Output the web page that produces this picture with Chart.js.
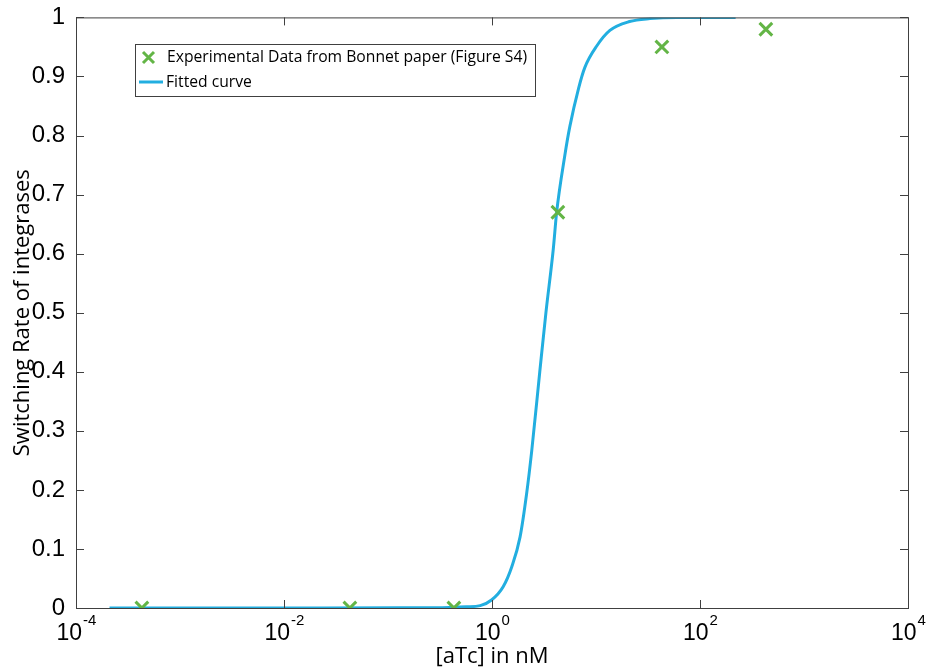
<!DOCTYPE html>
<html>
<head>
<meta charset="utf-8">
<script src="https://cdn.jsdelivr.net/npm/chart.js@4.4.0/dist/chart.umd.min.js"></script>
<style>
html, body { margin: 0; padding: 0; background: #fff; }
#wrap { width: 927px; height: 670px; }
</style>
</head>
<body>
<div id="wrap"><canvas id="myChart"></canvas></div>
<script>
// experimental points (Bonnet paper, Figure S4)
var expX = [0.00043, 0.043, 0.43, 4.3, 43, 430];
var expY = [0, 0, 0, 0.67, 0.95, 0.98];

// fitted curve
var fitX = [0.00021, 0.0015, 0.014, 0.13, 0.39, 0.57, 0.77, 0.99, 1.28, 1.55, 1.86, 2.15, 2.41, 2.88, 3.3, 3.88, 4.19, 5.0, 5.6, 6.8, 7.8, 10.2, 13.6, 21, 33, 60, 220];
var fitY = [0, 0, 0, 0.0003, 0.001, 0.002, 0.004, 0.0135, 0.036, 0.07, 0.12, 0.193, 0.266, 0.4, 0.5, 0.607, 0.671, 0.765, 0.815, 0.88, 0.915, 0.952, 0.978, 0.993, 0.998, 1, 1];

var xTicks = [1e-4, 1e-2, 1, 1e2, 1e4];
var xExp = ['-4', '-2', '0', '2', '4'];

var green = '#63b546';
var blue = '#22aee0';

function toPoints(xs, ys) {
    return xs.map(function (x, i) { return { x: x, y: ys[i] }; });
}

// frame, inward ticks, 10^n labels and the boxed legend
var matlabLook = {
    id: 'matlabLook',
    afterDraw: function (chart) {
        var c = chart.ctx, a = chart.chartArea;
        var xs = chart.scales.x, ys = chart.scales.y;
        c.save();
        c.strokeStyle = '#404040';
        c.lineWidth = 1;
        c.strokeRect(a.left + 0.5, a.top + 0.5, a.right - a.left, a.bottom - a.top);
        c.beginPath();
        xTicks.forEach(function (v) {
            var px = Math.round(xs.getPixelForValue(v)) + 0.5;
            c.moveTo(px, a.bottom); c.lineTo(px, a.bottom - 8);
            c.moveTo(px, a.top); c.lineTo(px, a.top + 8);
        });
        ys.ticks.forEach(function (t) {
            var py = Math.round(ys.getPixelForValue(t.value)) + 0.5;
            c.moveTo(a.left, py); c.lineTo(a.left + 8, py);
            c.moveTo(a.right, py); c.lineTo(a.right - 8, py);
        });
        c.stroke();

        // x tick labels with superscript exponent
        var baseFont = '23px "Liberation Sans", Arial, sans-serif';
        var expFont = '15px "Liberation Sans", Arial, sans-serif';
        c.fillStyle = '#000';
        c.textBaseline = 'alphabetic';
        c.textAlign = 'left';
        xTicks.forEach(function (v, i) {
            var px = xs.getPixelForValue(v);
            c.font = baseFont;
            var wb = c.measureText('10').width;
            c.font = expFont;
            var we = c.measureText(xExp[i]).width;
            var x0 = px - (wb + we) / 2;
            c.font = baseFont;
            c.fillText('10', x0, a.bottom + 32);
            c.font = expFont;
            c.fillText(xExp[i], x0 + wb + 1, a.bottom + 17);
        });

        // legend box
        var lx = 135, ly = 44, lw = 400, lh = 52;
        c.fillStyle = '#fff';
        c.fillRect(lx, ly, lw, lh);
        c.lineWidth = 1;
        c.strokeStyle = '#404040';
        c.strokeRect(lx + 0.5, ly + 0.5, lw, lh);
        c.strokeStyle = green;
        c.lineWidth = 3;
        c.beginPath();
        c.moveTo(143, 52); c.lineTo(154, 63);
        c.moveTo(154, 52); c.lineTo(143, 63);
        c.stroke();
        c.strokeStyle = blue;
        c.beginPath();
        c.moveTo(139, 82); c.lineTo(163, 82);
        c.stroke();
        c.fillStyle = '#000';
        c.font = '15.7px "Open Sans", sans-serif';
        c.textBaseline = 'middle';
        c.fillText('Experimental Data from Bonnet paper (Figure S4)', 167, 58);
        c.fillText('Fitted curve', 166, 83);
        c.restore();
    }
};

var ctx = document.getElementById('myChart').getContext('2d');
var myChart = new Chart(ctx, {
    type: 'scatter',
    data: {
        datasets: [{
            label: 'Experimental Data from Bonnet paper (Figure S4)',
            data: toPoints(expX, expY),
            pointStyle: 'crossRot',
            pointRadius: 9,
            borderWidth: 3,
            borderColor: green,
            backgroundColor: green,
            order: 1
        }, {
            label: 'Fitted curve',
            data: toPoints(fitX, fitY),
            showLine: true,
            pointRadius: 0,
            borderColor: blue,
            borderWidth: 3,
            cubicInterpolationMode: 'monotone',
            order: 2
        }]
    },
    options: {
        responsive: true,
        maintainAspectRatio: false,
        animation: false,
        layout: { padding: { top: 11, right: 19, left: 0, bottom: 0 } },
        plugins: {
            legend: { display: false },
            tooltip: { enabled: false }
        },
        scales: {
            x: {
                type: 'logarithmic',
                min: 1e-4,
                max: 1e4,
                afterBuildTicks: function (axis) {
                    axis.ticks = xTicks.map(function (v) { return { value: v }; });
                },
                afterFit: function (axis) { axis.height = 62; },
                grid: { display: false },
                border: { display: false },
                ticks: { display: false },
                title: {
                    display: true,
                    text: '[aTc] in nM',
                    color: '#000',
                    font: { family: 'Open Sans', size: 22, lineHeight: 1.2 },
                    padding: { top: 0, bottom: 0 }
                }
            },
            y: {
                min: 0,
                max: 1,
                afterFit: function (axis) { axis.width = 76; },
                grid: { display: false },
                border: { display: false },
                ticks: {
                    stepSize: 0.1,
                    color: '#000',
                    padding: 3,
                    font: { family: 'Liberation Sans', size: 24 },
                    callback: function (v) { return String(Math.round(v * 10) / 10); }
                },
                title: {
                    display: true,
                    text: 'Switching Rate of integrases',
                    color: '#000',
                    font: { family: 'Open Sans', size: 22, lineHeight: 1.2 },
                    padding: { top: 10, bottom: 0 }
                }
            }
        }
    },
    plugins: [matlabLook]
});
</script>
</body>
</html>
